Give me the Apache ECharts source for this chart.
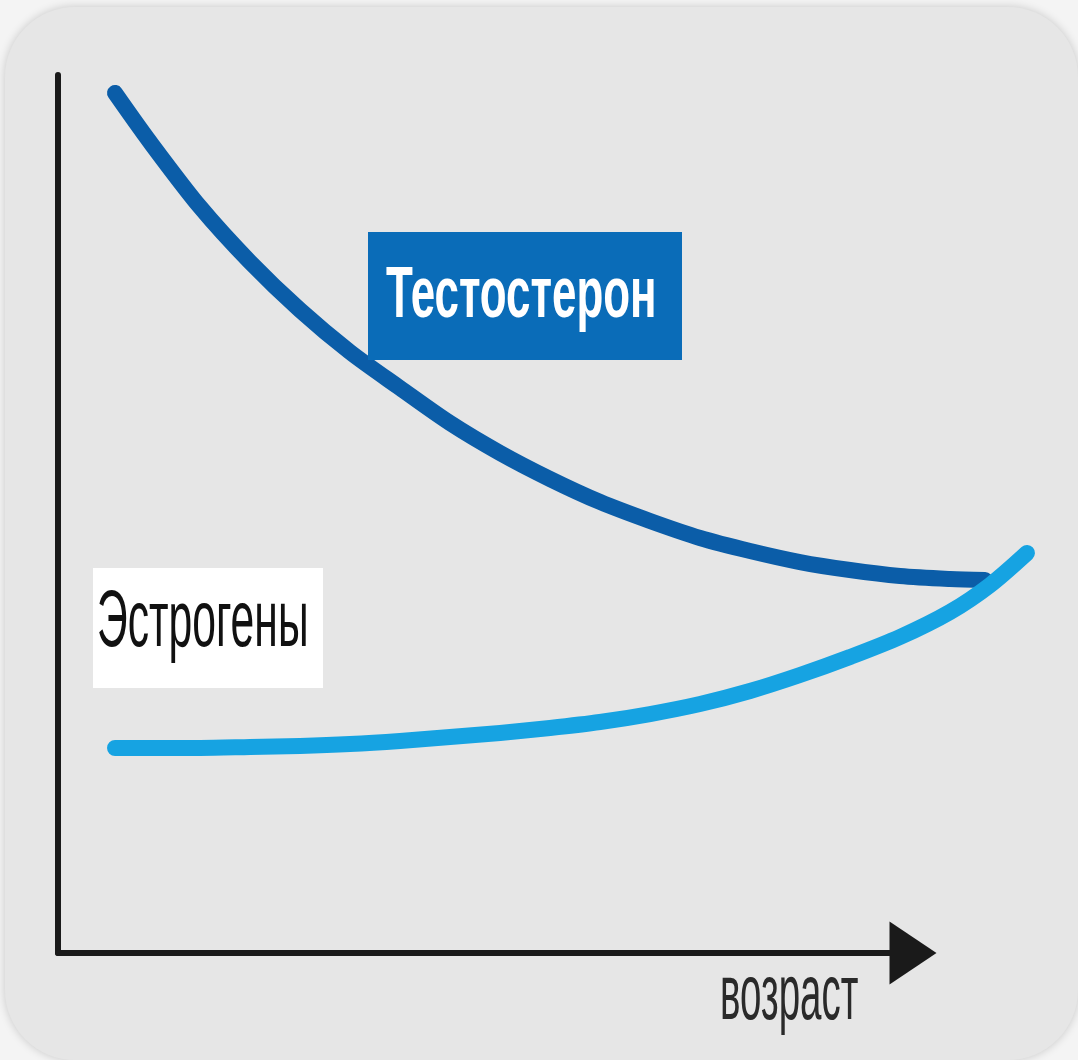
<!DOCTYPE html>
<html lang="ru">
<head>
    <meta charset="UTF-8">
    <title>Тестостерон и эстрогены</title>
    <script src="https://cdn.jsdelivr.net/npm/echarts@6/dist/echarts.min.js"></script>
</head>
<body style="margin:0;background:#f4f4f4;">
<div id="main" style="width:1078px;height:1060px;"></div>
<script type="text/javascript">
    // возраст (условные единицы: видимая ось 0..100, кривые заходят до ~113)
    var testoAge   = [6.67, 10.76, 16.61, 22.46, 28.30, 34.15, 40.00, 45.85, 51.70, 57.54, 63.39, 69.24, 75.09, 80.94, 86.78, 92.63, 98.48, 104.33, 108.42];
    var testoLevel = [97.95, 92.37, 84.97, 78.70, 73.23, 68.45, 64.35, 60.36, 56.95, 53.99, 51.37, 49.20, 47.27, 45.79, 44.53, 43.62, 42.94, 42.60, 42.48];

    var estroAge   = [6.67, 10.76, 16.61, 22.46, 28.30, 34.15, 40.00, 45.85, 51.70, 57.54, 63.39, 69.24, 75.09, 80.94, 86.78, 92.63, 98.48, 104.33, 109.01, 113.33];
    var estroLevel = [23.35, 23.35, 23.35, 23.46, 23.58, 23.80, 24.15, 24.60, 25.06, 25.63, 26.31, 27.22, 28.36, 29.84, 31.66, 33.71, 35.99, 38.84, 41.91, 45.56];

    var seriesNames = ['Тестостерон', 'Эстрогены'];
    var axisName = 'возраст';

    function pairs(xs, ys) {
        return xs.map(function (x, i) { return [x, ys[i]]; });
    }

    var hidden = { show: false };
    var myChart = echarts.init(document.getElementById('main'));

    var option = {
        backgroundColor: '#f4f4f4',
        animation: false,
        grid: [
            // видимые оси
            { left: 58, right: 165, top: 75, bottom: 107 },
            // область кривых, тот же масштаб, но шире вправо
            { left: 58, right: 36.75, top: 75, bottom: 107 }
        ],
        xAxis: [
            {
                type: 'value', min: 0, max: 100, gridIndex: 0,
                axisLine: {
                    show: true,
                    symbol: ['none', 'triangle'],
                    symbolSize: [63, 47],
                    lineStyle: { color: '#1a1a1a', width: 6 }
                },
                axisTick: hidden, axisLabel: hidden, splitLine: hidden
            },
            {
                type: 'value', min: 0, max: 115, gridIndex: 1,
                axisLine: hidden, axisTick: hidden, axisLabel: hidden, splitLine: hidden
            }
        ],
        yAxis: [
            {
                type: 'value', min: 0, max: 100, gridIndex: 0,
                axisLine: { show: true, lineStyle: { color: '#1a1a1a', width: 6 } },
                axisTick: hidden, axisLabel: hidden, splitLine: hidden
            },
            {
                type: 'value', min: 0, max: 100, gridIndex: 1,
                axisLine: hidden, axisTick: hidden, axisLabel: hidden, splitLine: hidden
            }
        ],
        series: [
            {
                name: seriesNames[0],
                type: 'line',
                xAxisIndex: 1, yAxisIndex: 1,
                smooth: 0.3,
                showSymbol: false,
                lineStyle: { color: '#0b5da8', width: 16, cap: 'round', join: 'round' },
                data: pairs(testoAge, testoLevel),
                z: 3
            },
            {
                name: seriesNames[1],
                type: 'line',
                xAxisIndex: 1, yAxisIndex: 1,
                smooth: 0.3,
                showSymbol: false,
                lineStyle: { color: '#16a3e2', width: 16, cap: 'round', join: 'round' },
                data: pairs(estroAge, estroLevel),
                z: 4
            }
        ],
        graphic: [
            // панель со скруглёнными углами
            {
                type: 'rect', z: -10, silent: true,
                shape: { x: 5, y: 7, width: 1073, height: 1053, r: 70 },
                style: { fill: '#e6e6e6', shadowBlur: 10, shadowColor: 'rgba(0,0,0,0.18)' }
            },
            // подпись Тестостерон
            {
                type: 'rect', z: 10,
                shape: { x: 368, y: 232, width: 314, height: 128 },
                style: { fill: '#0a6cb8' }
            },
            {
                type: 'text', z: 11, x: 386, y: 297, scaleX: 0.61,
                style: {
                    text: seriesNames[0], fill: '#ffffff',
                    font: 'bold 72px "Liberation Sans", Arial, sans-serif',
                    textVerticalAlign: 'middle'
                }
            },
            // подпись Эстрогены
            {
                type: 'rect', z: 10,
                shape: { x: 93, y: 568, width: 230, height: 120 },
                style: { fill: '#ffffff' }
            },
            {
                type: 'text', z: 11, x: 97, y: 624, scaleX: 0.54,
                style: {
                    text: seriesNames[1], fill: '#111111',
                    font: '79px "Liberation Sans", Arial, sans-serif',
                    textVerticalAlign: 'middle'
                }
            },
            // подпись оси
            {
                type: 'text', z: 11, x: 720, y: 998, scaleX: 0.5,
                style: {
                    text: axisName, fill: '#2a2a2a',
                    font: '77px "Liberation Sans", Arial, sans-serif',
                    textVerticalAlign: 'middle'
                }
            }
        ]
    };

    myChart.setOption(option);
</script>
</body>
</html>
